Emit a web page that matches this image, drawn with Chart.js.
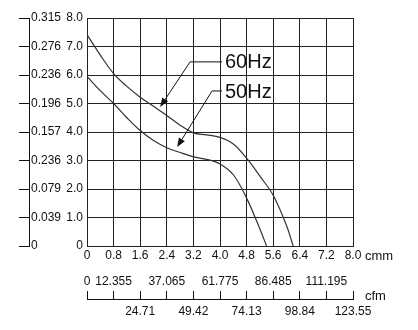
<!DOCTYPE html>
<html>
<head>
<meta charset="utf-8">
<script src="https://cdn.jsdelivr.net/npm/chart.js@4.4.1/dist/chart.umd.min.js"></script>
<style>
  html, body { margin: 0; padding: 0; background: #fff; }
  #wrap { width: 418px; height: 330px; }
</style>
</head>
<body>
<div id="wrap"><canvas id="fanCurve" width="418" height="330"></canvas></div>
<script>
'use strict';

/* ─── Data: airflow (cmm) vs static pressure ─────────────── */
const airflow60 = [0, 0.4, 0.8, 1.2, 1.6, 2.0, 2.4, 2.8, 3.2, 3.6, 4.0, 4.4, 4.8, 5.2, 5.6, 6.0, 6.2];
const pressure60 = [7.42, 6.70, 6.05, 5.60, 5.22, 4.90, 4.58, 4.24, 3.97, 3.90, 3.81, 3.58, 3.08, 2.45, 1.78, 0.72, 0];
const airflow50 = [0, 0.4, 0.8, 1.2, 1.6, 2.0, 2.4, 2.8, 3.2, 3.6, 4.0, 4.4, 4.8, 5.2, 5.4];
const pressure50 = [5.95, 5.45, 5.00, 4.50, 4.05, 3.70, 3.45, 3.28, 3.13, 3.04, 2.88, 2.50, 1.68, 0.60, 0];

const cmmTicks = ['0', '0.8', '1.6', '2.4', '3.2', '4.0', '4.8', '5.6', '6.4', '7.2', '8.0'];
const mmTicks = ['0', '1.0', '2.0', '3.0', '4.0', '5.0', '6.0', '7.0', '8.0'];
const inchTicks = ['0', '0.039', '0.079', '0.236', '0.157', '0.196', '0.236', '0.276', '0.315'];
const cfmAbove = ['0', '12.355', '', '37.065', '', '61.775', '', '86.485', '', '111.195', ''];
const cfmBelow = ['', '', '24.71', '', '49.42', '', '74.13', '', '98.84', '', '123.55'];

/* ─── Callouts (data coordinates) ────────────────────────── */
const callouts = [
  { text: '60Hz', at: [4.15, 6.43], elbow: [3.10, 6.46], tip: [2.20, 4.88] },
  { text: '50Hz', at: [4.15, 5.39], elbow: [3.76, 5.44], tip: [2.71, 3.47] },
];

const FONT = "'Liberation Sans', Arial, sans-serif";
const INK = '#111';
const GRID = '#222';

const toPoints = (xs, ys) => xs.map((x, i) => ({ x, y: ys[i] }));

const calloutPlugin = {
  id: 'callouts',
  afterDatasetsDraw(chart) {
    const { ctx, scales: { x, y } } = chart;
    ctx.save();
    ctx.strokeStyle = INK;
    ctx.fillStyle = INK;
    ctx.lineWidth = 1;
    callouts.forEach(c => {
      const tx = x.getPixelForValue(c.tip[0]), ty = y.getPixelForValue(c.tip[1]);
      const ex = x.getPixelForValue(c.elbow[0]), ey = y.getPixelForValue(c.elbow[1]);
      const lx = x.getPixelForValue(c.at[0]), ly = y.getPixelForValue(c.at[1]);
      const a = Math.atan2(ty - ey, tx - ex);
      const len = 9, half = 3.5;
      const bx = tx - len * Math.cos(a), by = ty - len * Math.sin(a);
      ctx.beginPath();
      ctx.moveTo(lx - 3, ey);
      ctx.lineTo(ex, ey);
      ctx.lineTo(bx, by);
      ctx.stroke();
      ctx.beginPath();
      ctx.moveTo(tx, ty);
      ctx.lineTo(bx + half * Math.sin(a), by - half * Math.cos(a));
      ctx.lineTo(bx - half * Math.sin(a), by + half * Math.cos(a));
      ctx.closePath();
      ctx.fill();
      ctx.font = '20px ' + FONT;
      ctx.textAlign = 'left';
      ctx.textBaseline = 'middle';
      ctx.fillText(c.text, lx, ly);
    });
    ctx.restore();
  },
  afterDraw(chart) {
    const { ctx, chartArea, scales } = chart;
    ctx.save();
    ctx.fillStyle = INK;
    ctx.font = '13px ' + FONT;
    ctx.textAlign = 'left';
    ctx.textBaseline = 'middle';
    ctx.fillText('cmm', chartArea.right + 12, scales.x.top + 10);
    ctx.fillText('cfm', chartArea.right + 12, scales.cfmA.top - 3);
    ctx.restore();
  },
};

const tickFont = { family: FONT, size: 12 };

new Chart(document.getElementById('fanCurve'), {
  type: 'line',
  data: {
    datasets: [
      { label: '60Hz', data: toPoints(airflow60, pressure60) },
      { label: '50Hz', data: toPoints(airflow50, pressure50) },
    ],
  },
  options: {
    responsive: false,
    animation: false,
    layout: { padding: { top: 18, right: 65, left: 19, bottom: 0 } },
    elements: {
      line: { borderColor: '#333', borderWidth: 1.2, tension: 0.35, fill: false },
      point: { radius: 0 },
    },
    plugins: { legend: { display: false }, tooltip: { enabled: false } },
    scales: {
      x: {
        type: 'linear', position: 'bottom', weight: 0,
        min: 0, max: 8,
        grid: { color: GRID, lineWidth: 1, drawTicks: false },
        border: { color: GRID },
        ticks: {
          stepSize: 0.8, color: INK, font: tickFont, padding: 2,
          maxRotation: 0, minRotation: 0, autoSkip: false,
          callback: (v, i) => cmmTicks[i],
        },
        afterFit: (s) => { s.height = 53; },
      },
      cfmA: {
        type: 'linear', position: 'bottom', weight: 1,
        min: 0, max: 10,
        grid: { drawOnChartArea: false, color: INK, tickLength: -8, tickColor: INK },
        border: { color: INK },
        ticks: {
          stepSize: 1, mirror: true, color: INK, font: tickFont, padding: 10,
          maxRotation: 0, minRotation: 0, autoSkip: false,
          callback: (v) => cfmAbove[Math.round(v)],
        },
        afterFit: (s) => { s.height = 0; },
      },
      cfmB: {
        type: 'linear', position: 'bottom', weight: 2,
        min: 0, max: 10,
        grid: { drawOnChartArea: false, drawTicks: false },
        border: { display: false },
        ticks: {
          stepSize: 1, color: INK, font: tickFont, padding: 5,
          maxRotation: 0, minRotation: 0, autoSkip: false,
          callback: (v) => cfmBelow[Math.round(v)],
        },
        afterFit: (s) => { s.height = 31; },
      },
      y: {
        type: 'linear', position: 'left', weight: 0,
        min: 0, max: 8,
        grid: { color: GRID, lineWidth: 1, drawTicks: false },
        border: { color: GRID },
        ticks: {
          stepSize: 1, color: INK, font: tickFont, padding: 4,
          callback: (v) => mmTicks[Math.round(v)],
        },
        afterFit: (s) => { s.width = 58; },
      },
      yInch: {
        type: 'linear', position: 'left', weight: 1,
        min: 0, max: 8,
        grid: { drawOnChartArea: false, color: INK, tickLength: 10, tickColor: INK },
        border: { color: INK },
        ticks: {
          stepSize: 1, mirror: true, color: INK, font: tickFont, padding: 2,
          callback: (v) => inchTicks[Math.round(v)],
        },
        afterFit: (s) => { s.width = 10; },
      },
    },
  },
  plugins: [calloutPlugin],
});
</script>
</body>
</html>
